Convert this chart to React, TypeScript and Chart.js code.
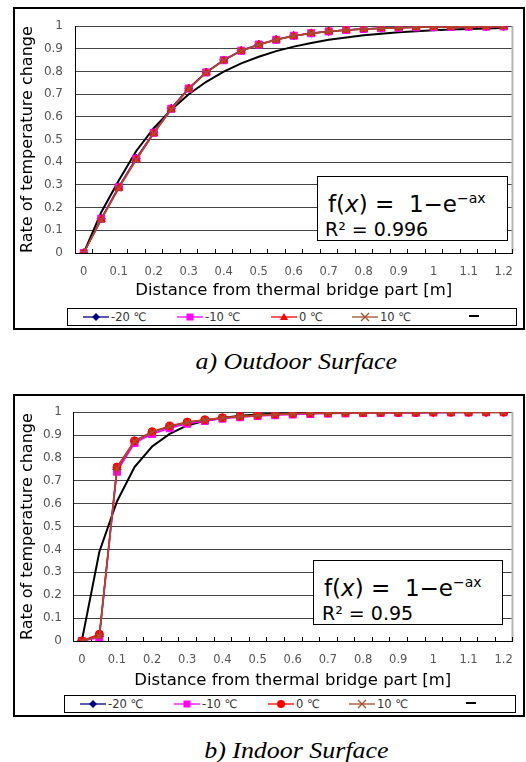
import React, { useEffect, useRef } from 'react';
import { Chart, registerables } from 'chart.js';
Chart.register(...registerables);

// ---------- data ----------
const distances = ['0', '0.05', '0.1', '0.15', '0.2', '0.25', '0.3', '0.35', '0.4', '0.45', '0.5', '0.55', '0.6', '0.65', '0.7', '0.75', '0.8', '0.85', '0.9', '0.95', '1', '1.05', '1.1', '1.15', '1.2'];
const xTickLabels = ['0', '0.1', '0.2', '0.3', '0.4', '0.5', '0.6', '0.7', '0.8', '0.9', '1', '1.1', '1.2'];
const yTickLabels = ['0', '0.1', '0.2', '0.3', '0.4', '0.5', '0.6', '0.7', '0.8', '0.9', '1'];
const seriesLabels = ['-20 ℃', '-10 ℃', '0 ℃', '10 ℃'];
const xTitle = 'Distance from thermal bridge part [m]';
const yTitle = 'Rate of temperature change';

// a) Outdoor surface
const outdoorM20 = [0, 0.152, 0.292, 0.418, 0.532, 0.638, 0.727, 0.798, 0.851, 0.893, 0.92, 0.941, 0.958, 0.969, 0.977, 0.983, 0.988, 0.991, 0.993, 0.995, 0.996, 0.997, 0.998, 0.998, 0.999];
const outdoorM10 = [0, 0.151, 0.29, 0.416, 0.53, 0.636, 0.725, 0.796, 0.85, 0.892, 0.919, 0.94, 0.958, 0.969, 0.977, 0.983, 0.988, 0.991, 0.993, 0.995, 0.996, 0.997, 0.998, 0.998, 0.999];
const outdoor0 = [0, 0.148, 0.287, 0.413, 0.528, 0.634, 0.724, 0.795, 0.849, 0.891, 0.918, 0.94, 0.957, 0.969, 0.977, 0.983, 0.988, 0.991, 0.993, 0.995, 0.996, 0.997, 0.998, 0.998, 0.999];
const outdoor10 = [0, 0.146, 0.285, 0.411, 0.527, 0.633, 0.723, 0.795, 0.849, 0.891, 0.918, 0.94, 0.957, 0.969, 0.977, 0.983, 0.988, 0.991, 0.993, 0.995, 0.996, 0.997, 0.998, 0.998, 0.999];
const outdoorFit = [0, 0.18, 0.32, 0.45, 0.55, 0.632, 0.7, 0.755, 0.8, 0.836, 0.865, 0.89, 0.91, 0.926, 0.94, 0.95, 0.96, 0.967, 0.973, 0.978, 0.982, 0.985, 0.988, 0.99, 0.992];
const outdoorFormula = 'f(x) = 1−e^−ax';
const outdoorR2 = 'R² = 0.996';

// b) Indoor surface
const indoorM20 = [0, 0.02, 0.75, 0.872, 0.912, 0.937, 0.955, 0.966, 0.975, 0.981, 0.986, 0.99, 0.993, 0.995, 0.996, 0.997, 0.998, 0.998, 0.999, 0.999, 0.999, 1, 1, 1, 1];
const indoorM10 = [0, 0.015, 0.74, 0.865, 0.905, 0.93, 0.95, 0.962, 0.972, 0.978, 0.983, 0.987, 0.99, 0.992, 0.994, 0.995, 0.996, 0.997, 0.998, 0.998, 0.999, 0.999, 0.999, 1, 1];
const indoor0 = [0, 0.03, 0.76, 0.875, 0.915, 0.94, 0.957, 0.967, 0.976, 0.982, 0.987, 0.991, 0.994, 0.996, 0.997, 0.998, 0.998, 0.999, 0.999, 0.999, 1, 1, 1, 1, 1];
const indoor10 = [0, 0.02, 0.755, 0.873, 0.913, 0.938, 0.956, 0.966, 0.975, 0.981, 0.986, 0.99, 0.993, 0.995, 0.996, 0.997, 0.998, 0.998, 0.999, 0.999, 1, 1, 1, 1, 1];
const indoorFit = [0, 0.39, 0.61, 0.76, 0.85, 0.905, 0.942, 0.962, 0.975, 0.984, 0.99, 0.993, 0.995, 0.997, 0.998, 0.999, 0.999, 1, 1, 1, 1, 1, 1, 1, 1];
const indoorR2 = 'R² = 0.95';

const captionA = 'a) Outdoor Surface';
const captionB = 'b) Indoor Surface';

// ---------- styling ----------
const FONT = 'DejaVu Sans';
const seriesColors = ['#000080', '#FF00FF', '#FF0000', '#A0522D'];

type Series = { label: string; data: number[]; color: string; pointStyle: string; radius: number };

const plotDecor = {
  id: 'plotDecor',
  beforeDatasetsDraw(chart: any) {
    const { ctx, chartArea: a, scales } = chart;
    const x = scales.x;
    ctx.save();
    ctx.strokeStyle = '#b4b4b4';
    ctx.lineWidth = 2;
    ctx.beginPath();
    ctx.moveTo(a.right, a.top);
    ctx.lineTo(a.right, a.bottom);
    ctx.stroke();
    ctx.strokeStyle = '#000';
    ctx.lineWidth = 1;
    const n = x.ticks.length;
    const half = (x.getPixelForTick(1) - x.getPixelForTick(0)) / 2;
    ctx.beginPath();
    for (let i = 0; i < n; i++) {
      const px = Math.round(x.getPixelForTick(i) + half) + 0.5;
      ctx.moveTo(px, a.bottom);
      ctx.lineTo(px, a.bottom - 4);
    }
    ctx.stroke();
    ctx.restore();
  },
};

type Geom = {
  left: number; top: number; width: number; height: number;
  padTop: number; padRight: number; yWidth: number; xHeight: number;
  xTickPad: number; xTitlePad: number; yTickPad: number; yTitlePad: number;
};

function ChartPanel({ geom, series, fit }: { geom: Geom; series: Series[]; fit: number[] }) {
  const ref = useRef<HTMLCanvasElement>(null);
  useEffect(() => {
    const datasets: any[] = series.map((s, i) => ({
      label: s.label,
      data: s.data,
      borderColor: s.color,
      backgroundColor: s.color,
      pointBackgroundColor: s.color,
      pointBorderColor: s.color,
      pointStyle: s.pointStyle,
      pointRadius: s.radius,
      pointBorderWidth: s.pointStyle === 'crossRot' ? 1.5 : 1,
      borderWidth: 1.5,
      tension: 0,
      fill: false,
      order: 4 - i,
    }));
    datasets.push({
      label: 'fit',
      data: fit,
      borderColor: '#000',
      borderWidth: 2,
      pointRadius: 0,
      tension: 0,
      fill: false,
      order: 10,
    });
    const chart = new Chart(ref.current as HTMLCanvasElement, {
      type: 'line',
      data: { labels: distances, datasets },
      plugins: [plotDecor],
      options: {
        animation: false,
        responsive: false,
        devicePixelRatio: 1,
        layout: { padding: { top: geom.padTop, right: geom.padRight, left: 0, bottom: 0 } },
        plugins: { legend: { display: false }, tooltip: { enabled: false } },
        scales: {
          x: {
            type: 'category',
            offset: true,
            grid: { display: true, drawOnChartArea: false, drawTicks: false, color: 'rgba(0,0,0,0)' },
            border: { display: true, color: '#000', width: 1 },
            ticks: {
              autoSkip: false,
              maxRotation: 0,
              minRotation: 0,
              padding: geom.xTickPad,
              color: '#555',
              font: { family: FONT, size: 11.5 },
              callback: (_v: any, i: number) => (i % 2 === 0 ? xTickLabels[i / 2] : ''),
            },
            title: {
              display: true,
              text: xTitle,
              color: '#000',
              font: { family: FONT, size: 16.5 },
              padding: { top: 0, bottom: geom.xTitlePad },
            },
            afterFit: (s: any) => { s.height = geom.xHeight; },
          },
          y: {
            type: 'linear',
            min: 0,
            max: 1,
            grid: { color: '#444', lineWidth: 1, drawTicks: false },
            border: { display: true, color: '#000', width: 1 },
            ticks: {
              stepSize: 0.1,
              padding: geom.yTickPad,
              color: '#555',
              font: { family: FONT, size: 12 },
              callback: (_v: any, i: number) => yTickLabels[i],
            },
            title: {
              display: true,
              text: yTitle,
              color: '#000',
              font: { family: FONT, size: 16 },
              padding: { top: geom.yTitlePad, bottom: 0 },
            },
            afterFit: (s: any) => { s.width = geom.yWidth; },
          },
        },
      } as any,
    });
    return () => chart.destroy();
  }, []);
  return (
    <canvas
      ref={ref}
      width={geom.width}
      height={geom.height}
      style={{ position: 'absolute', left: geom.left, top: geom.top, width: geom.width, height: geom.height }}
    />
  );
}

function Marker({ style, color }: { style: string; color: string }) {
  switch (style) {
    case 'rectRot':
      return <polygon points="13,2 17,6 13,10 9,6" fill={color} />;
    case 'rect':
      return <rect x={9.5} y={2.5} width={7} height={7} fill={color} />;
    case 'triangle':
      return <polygon points="13,2 17,9 9,9" fill={color} />;
    case 'circle':
      return <circle cx={13} cy={6} r={4} fill={color} />;
    case 'crossRot':
      return <path d="M9,2L17,10M9,10L17,2" stroke={color} strokeWidth={1.3} fill="none" />;
    default:
      return null;
  }
}

function Legend({ left, top, width, height, series }: { left: number; top: number; width: number; height: number; series: Series[] }) {
  const offsets = [15, 109, 203, 284];
  return (
    <div
      style={{
        position: 'absolute', left, top, width, height, boxSizing: 'border-box',
        border: '1px solid #000', background: '#fff',
      }}
    >
      {series.map((s, i) => (
        <div key={s.label} style={{ position: 'absolute', left: offsets[i], top: 0, height: height - 2, display: 'flex', alignItems: 'center' }}>
          <svg width={26} height={12} style={{ display: 'block' }}>
            <line x1={0} y1={6} x2={26} y2={6} stroke={s.color} strokeWidth={1.3} />
            <Marker style={s.pointStyle} color={s.color} />
          </svg>
          <span style={{ fontFamily: FONT, fontSize: 11.5, color: '#333', marginLeft: 2, whiteSpace: 'pre', lineHeight: '12px' }}>
            {s.label}
          </span>
        </div>
      ))}
      <div style={{ position: 'absolute', left: 401, top: (height - 2) / 2 - 2, width: 10, height: 2, background: '#000' }} />
    </div>
  );
}

function FormulaBox({ left, top, width, height, r2, l1x, l1b, l2x, l2b }: any) {
  const [main, sup] = outdoorFormula.split('^');
  const [pre, post] = main.split('x');
  const fs = 23;
  const fs2 = 19;
  return (
    <div style={{ position: 'absolute', left, top, width, height, boxSizing: 'border-box', border: '1.5px solid #000', background: '#fff' }}>
      <div style={{ position: 'absolute', left: l1x, top: l1b - 0.846 * fs, fontFamily: FONT, fontSize: fs, lineHeight: `${fs}px`, whiteSpace: 'pre', color: '#000' }}>
        {pre}<i>x</i>{post.replace('= ', '=  ')}<span style={{ fontSize: 14, verticalAlign: '9px' }}>{sup}</span>
      </div>
      <div style={{ position: 'absolute', left: l2x, top: l2b - 0.846 * fs2, fontFamily: FONT, fontSize: fs2, lineHeight: `${fs2}px`, whiteSpace: 'pre', color: '#000' }}>
        {r2}
      </div>
    </div>
  );
}

function Caption({ text, baseline }: { text: string; baseline: number }) {
  const fs = 24;
  return (
    <div
      style={{
        position: 'absolute', left: 0, width: 592, top: baseline - 0.8375 * fs, textAlign: 'center',
        fontFamily: '"Liberation Serif", "Times New Roman", serif', fontStyle: 'italic', fontSize: fs,
        lineHeight: `${fs}px`, color: '#000', whiteSpace: 'pre',
      }}
    >
      <span style={{ display: 'inline-block', transform: 'scaleX(1.08)' }}>{text}</span>
    </div>
  );
}

const outdoorSeries: Series[] = [
  { label: seriesLabels[0], data: outdoorM20, color: seriesColors[0], pointStyle: 'rectRot', radius: 4 },
  { label: seriesLabels[1], data: outdoorM10, color: seriesColors[1], pointStyle: 'rect', radius: 5 },
  { label: seriesLabels[2], data: outdoor0, color: seriesColors[2], pointStyle: 'triangle', radius: 4.5 },
  { label: seriesLabels[3], data: outdoor10, color: seriesColors[3], pointStyle: 'crossRot', radius: 4 },
];
const indoorSeries: Series[] = [
  { label: seriesLabels[0], data: indoorM20, color: seriesColors[0], pointStyle: 'rectRot', radius: 4 },
  { label: seriesLabels[1], data: indoorM10, color: seriesColors[1], pointStyle: 'rect', radius: 5 },
  { label: seriesLabels[2], data: indoor0, color: seriesColors[2], pointStyle: 'circle', radius: 4 },
  { label: seriesLabels[3], data: indoor10, color: seriesColors[3], pointStyle: 'crossRot', radius: 4 },
];

export default function App() {
  const g1: Geom = { left: 13, top: 7, width: 512, height: 300, padTop: 18, padRight: 7, yWidth: 62, xHeight: 54, xTickPad: 12, xTitlePad: 6, yTickPad: 12, yTitlePad: 5 };
  const g2: Geom = { left: 13, top: 394, width: 512, height: 300, padTop: 17.5, padRight: 8, yWidth: 60, xHeight: 53, xTickPad: 12, xTitlePad: 3, yTickPad: 11, yTitlePad: 5 };
  return (
    <div style={{ position: 'absolute', left: 0, top: 0, width: 526, height: 762, background: '#fff', overflow: 'hidden' }}>
      <div style={{ position: 'absolute', left: 13, top: 7, width: 512, height: 323, boxSizing: 'border-box', border: '2px solid #000', background: '#fff' }} />
      <ChartPanel geom={g1} series={outdoorSeries} fit={outdoorFit} />
      <FormulaBox left={317} top={176} width={191} height={65} r2={outdoorR2} l1x={10} l1b={29} l2x={7} l2b={59} />
      <Legend left={67} top={308} width={450} height={18} series={outdoorSeries} />
      <Caption text={captionA} baseline={369} />

      <div style={{ position: 'absolute', left: 13, top: 394, width: 512, height: 323, boxSizing: 'border-box', border: '2px solid #000', background: '#fff' }} />
      <ChartPanel geom={g2} series={indoorSeries} fit={indoorFit} />
      <FormulaBox left={313} top={560} width={190} height={65} r2={indoorR2} l1x={10} l1b={29} l2x={8} l2b={59} />
      <Legend left={64} top={695} width={452} height={18} series={indoorSeries} />
      <Caption text={captionB} baseline={758} />
    </div>
  );
}
